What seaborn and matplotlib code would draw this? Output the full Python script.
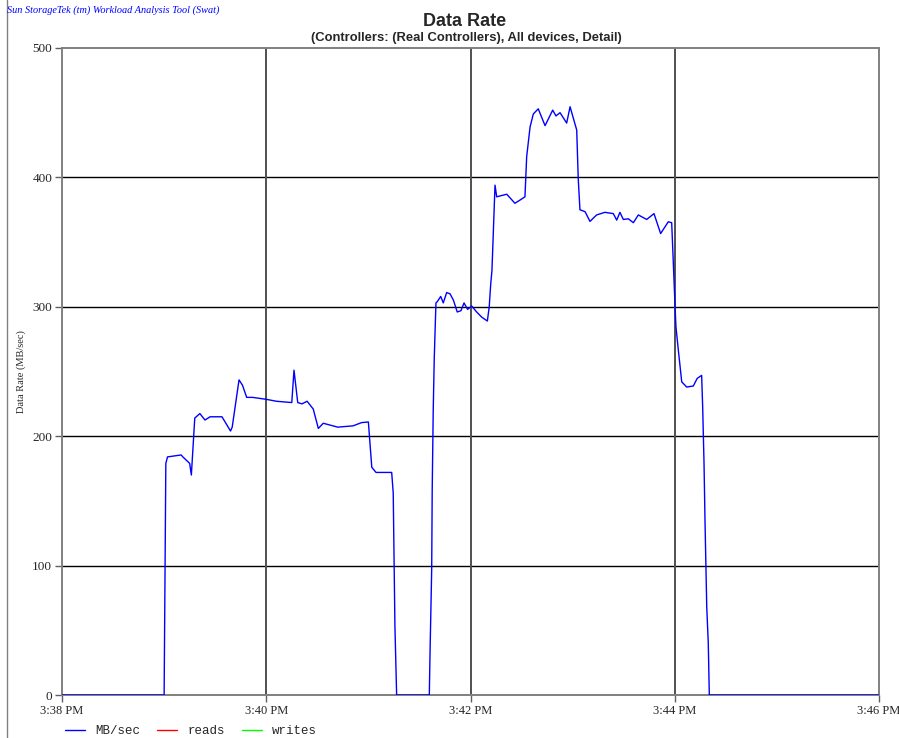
import matplotlib
matplotlib.use("Agg")
import matplotlib.pyplot as plt
import matplotlib.lines as mlines
import seaborn as sns
import pandas as pd

# seconds after 3:38:00 PM
seconds = [0, 60, 61, 62, 70, 71, 75, 76, 78, 81, 84, 87, 94, 99, 100, 104, 106, 108.5,
           112, 120, 126, 135, 136.3, 138.5, 141, 144, 147.6, 150.6, 153.5, 162, 171, 176,
           180, 182, 184.5, 193.7, 194.6, 195.6, 196.6, 215.8, 216.2, 217.2, 217.5, 218.1,
           218.7, 219.7, 220.5, 222.5, 224, 226, 228, 230, 232.2, 234.4, 236.2, 238.3,
           240.7, 243.6, 246.6, 249.9, 251, 251.9, 252.6, 254.4, 255.4, 258.3, 261.3,
           266.1, 269.1, 272, 273, 275, 276.9, 279.8, 283.8, 288.3, 290.2, 292.6, 296.5,
           298.5, 302.4, 303.3, 304.3, 307.3, 310.2, 314.1, 319, 323.9, 325.9, 327.8,
           329.8, 332.7, 335.7, 338.6, 343.5, 347.8, 351.7, 356.2, 358.2, 359.1, 360.1,
           360.7, 362.1, 364.1, 367, 370.9, 373.2, 375.8, 376.4, 377.2, 377.8, 378.8,
           379.7, 380.3, 480]
mb_sec = [0, 0, 179, 184, 185.5, 184, 179, 170, 214, 217.5, 212.5, 215, 215, 204, 207,
          243.5, 239.5, 230, 230, 228.5, 227, 226, 251, 226, 225, 227, 221, 206, 210, 207,
          208, 210.5, 211, 176, 172, 172, 156, 53, 0, 0, 31, 97, 158, 220, 260, 303, 304,
          308, 303, 311, 310, 305, 296, 297, 303, 298, 300.6, 296, 292, 289, 300, 318, 328,
          394, 385, 386, 387, 380, 382.5, 385, 416, 439, 449, 453, 440, 452, 447.5, 450,
          442, 454.6, 436.6, 399, 375, 373.5, 366, 371, 373, 372, 367, 373, 367.5, 368,
          365, 371, 367.5, 372, 356.6, 365.7, 365, 336, 302.7, 284.6, 266.6, 242, 238,
          238.8, 244.7, 247, 222.8, 179, 132.7, 68, 40, 0, 0]
reads = [0] * len(seconds)
writes = [0] * len(seconds)

tick_seconds = [0, 120, 240, 360, 480]
tick_labels = ["3:38 PM", "3:40 PM", "3:42 PM", "3:44 PM", "3:46 PM"]
y_ticks = [0, 100, 200, 300, 400, 500]

df = pd.DataFrame({"t": seconds * 3,
                   "v": mb_sec + reads + writes,
                   "s": ["MB/sec"] * len(seconds) + ["reads"] * len(seconds) + ["writes"] * len(seconds)})

sns.set_style("white")
fig = plt.figure(figsize=(8.99, 7.38), dpi=100)
ax = fig.add_axes([62 / 899, 1 - 695 / 738, (879 - 62) / 899, (695 - 48) / 738])

sns.lineplot(data=df[df.s != "MB/sec"], x="t", y="v", hue="s",
             palette={"reads": "#ff0000", "writes": "#00ff00"}, lw=1, ax=ax,
             legend=False, zorder=1)
sns.lineplot(data=df[df.s == "MB/sec"], x="t", y="v", color="#0000ff", lw=1.0,
             ax=ax, legend=False, zorder=3)

ax.set_xlim(0, 480)
ax.set_ylim(0, 500)
ax.set_xticks(tick_seconds)
ax.set_xticklabels(tick_labels, family="Liberation Serif", fontsize=9)
ax.set_yticks(y_ticks)
ax.set_yticklabels([str(v) for v in y_ticks], family="Liberation Serif", fontsize=9.5)
ax.tick_params(axis="both", length=5, width=1, color="#606060", direction="out", pad=2,
               left=True, bottom=True)
for y in [100, 200, 300, 400]:
    ax.axhline(y, color="#000000", lw=1, zorder=2)
for x in [120, 240, 360]:
    ax.axvline(x, color="#505050", lw=1.4, zorder=2)
for sp in ax.spines.values():
    sp.set_color("#808080")
    sp.set_linewidth(1.4)
ax.set_xlabel("")
ax.set_ylabel("Data Rate (MB/sec)", family="Liberation Serif", fontsize=7.5)
ax.yaxis.set_label_coords((26 - 62) / 817, 0.5)

fig.text(465 / 899, 1 - 21 / 738, "Data Rate", ha="center", va="center",
         family="Liberation Sans", fontweight="bold", fontsize=13)
fig.text(466 / 899, 1 - 38 / 738, "(Controllers: (Real Controllers), All devices, Detail)",
         ha="center", va="center", family="Liberation Sans", fontweight="bold", fontsize=9.4)
fig.text(7 / 899, 1 - 10 / 738, "Sun StorageTek (tm) Workload Analysis Tool (Swat)",
         ha="left", va="center", family="Liberation Serif", style="italic",
         fontsize=7.4, color="#0000ff")
fig.add_artist(mlines.Line2D([6.5 / 899, 6.5 / 899], [0, 1], color="#808080", lw=1))

handles = [mlines.Line2D([], [], color="#0000ff", lw=1),
           mlines.Line2D([], [], color="#ff0000", lw=1),
           mlines.Line2D([], [], color="#00ff00", lw=1)]
fig.legend(handles, ["MB/sec", "reads", "writes"], loc="center left",
           bbox_to_anchor=(56 / 899, 1 - 731 / 738), ncol=3, frameon=False,
           prop={"family": "Liberation Mono", "size": 9}, handlelength=1.6,
           columnspacing=1.4, handletextpad=0.8, borderpad=0.2)

fig.savefig("out.png", dpi=100)
